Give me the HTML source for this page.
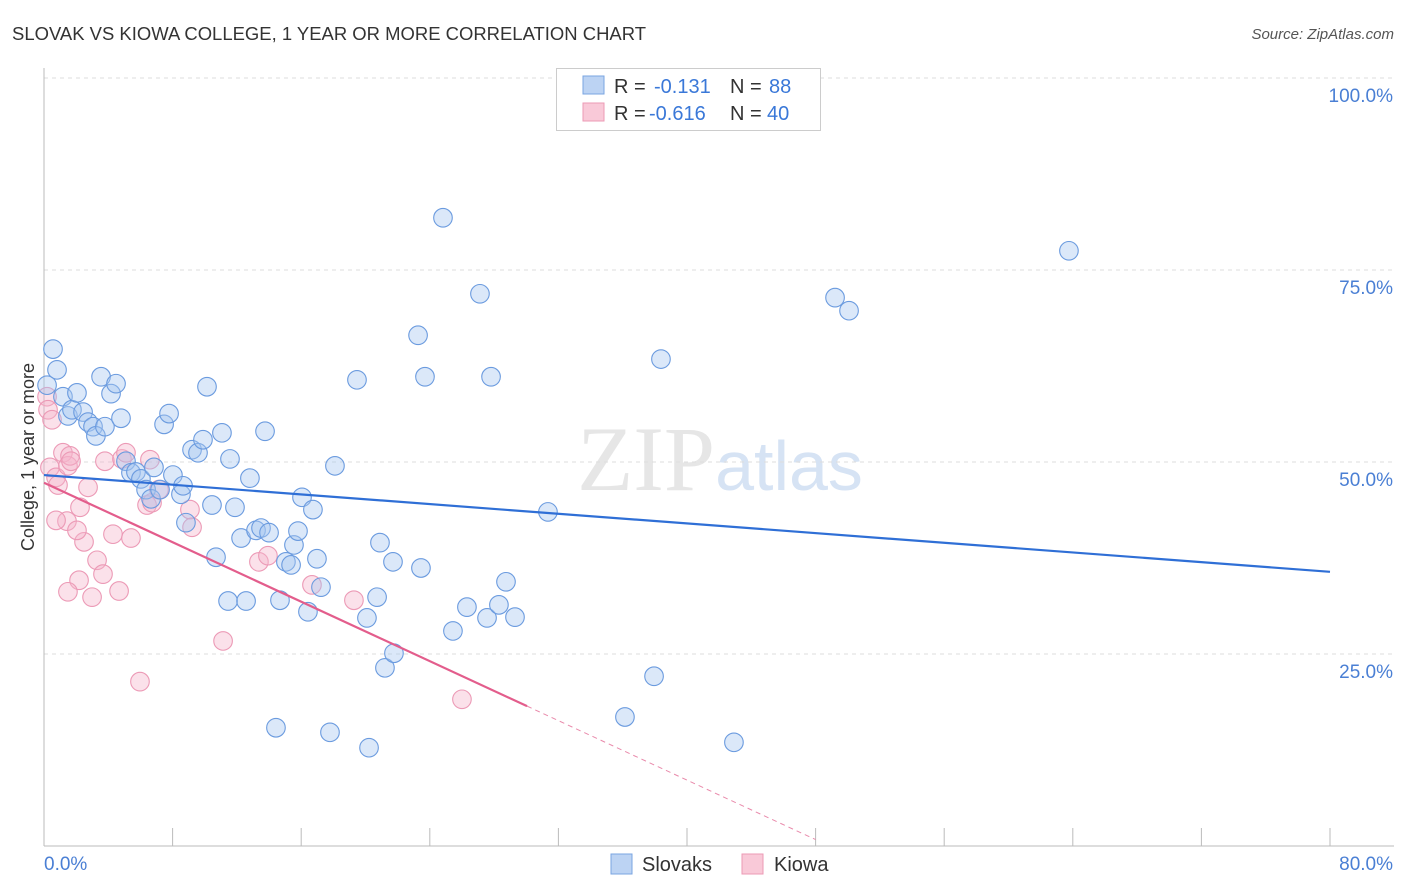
<!DOCTYPE html>
<html><head><meta charset="utf-8"><style>
body{margin:0;background:#fff;font-family:"Liberation Sans",sans-serif}
#c{position:absolute;left:0;top:0}
</style></head><body>
<svg id="c" width="1406" height="892"></svg>
<script>
const blueX=[0.56,0.81,1.18,0.19,1.49,1.74,2.05,2.43,2.74,3.05,3.23,3.55,3.79,4.17,4.48,4.79,5.10,5.41,5.72,6.03,6.35,6.66,6.84,7.22,7.47,7.78,8.02,8.52,8.65,8.83,9.21,9.58,9.89,10.14,10.45,10.70,11.07,11.45,11.57,11.88,12.26,12.57,12.81,13.19,13.50,13.75,14.00,14.68,15.05,15.37,15.55,15.80,16.05,16.42,16.73,16.98,17.23,17.79,18.10,19.47,20.09,20.22,20.72,20.90,21.21,21.71,21.77,23.27,23.45,23.70,24.82,25.44,26.31,27.12,27.56,27.81,28.30,28.74,29.30,31.35,36.14,37.95,38.38,42.92,49.21,50.08,63.76,14.43];
const blueY=[64.7,62.0,58.5,60.0,56.0,56.8,59.0,56.5,55.2,54.6,53.4,61.1,54.6,58.9,60.2,55.7,50.1,48.6,48.7,47.8,46.4,45.2,49.3,46.4,54.9,56.3,48.3,45.8,46.9,42.1,51.6,51.2,52.9,59.8,44.4,37.6,53.8,31.9,50.4,44.1,40.1,31.9,47.9,41.1,41.4,54.0,40.8,32.0,37.0,36.6,39.2,41.0,45.4,30.5,43.8,37.4,33.7,14.8,49.5,60.7,29.7,12.8,32.4,39.5,23.2,37.0,25.1,66.5,36.2,61.1,81.8,28.0,31.1,71.9,29.7,61.1,31.4,34.4,29.8,43.5,16.8,22.1,63.4,13.5,71.4,69.7,77.5,15.4];
const pinkX=[0.19,0.25,0.50,0.37,0.75,0.87,1.18,1.49,1.62,1.68,1.43,0.75,2.24,2.49,2.05,2.74,3.30,3.67,2.18,1.49,2.99,4.29,4.67,3.79,4.85,5.10,5.41,6.41,6.72,7.15,9.08,9.21,11.14,5.97,13.37,13.93,16.67,19.28,26.0,6.59];
const pinkY=[58.5,56.8,55.5,49.3,48.0,47.0,51.2,49.5,50.8,50.1,42.3,42.4,44.1,39.6,41.1,46.7,37.2,35.4,34.6,33.1,32.4,40.6,33.2,50.1,50.4,51.2,40.1,44.4,44.7,46.4,43.8,41.5,26.7,21.4,37.0,37.8,34.0,32.0,19.1,50.3];
const blueTrend=[48.3,35.7]; // y at x=0 and x=80
const pinkTrend=[47.3,-0.968]; // intercept, slope
const pinkSolidEnd=30.05, pinkDashEnd=48;
const yTicks=[25,50,75,100];
const yTickLabels=["25.0%","50.0%","75.0%","100.0%"];

const NS="http://www.w3.org/2000/svg";
const svg=document.getElementById('c');
const X=v=>44+v*16.075, Y=v=>846-v*7.68;
function mk(t,a,p){const e=document.createElementNS(NS,t);for(const k in a)e.setAttribute(k,a[k]);(p||svg).appendChild(e);return e;}

let t=mk('text',{x:12,y:40,'font-size':18,fill:'#333',textLength:634,lengthAdjust:'spacingAndGlyphs'});t.textContent='SLOVAK VS KIOWA COLLEGE, 1 YEAR OR MORE CORRELATION CHART';


t=mk('text',{x:1394,y:39,'font-size':15,fill:'#555','font-style':'italic','text-anchor':'end'});t.textContent='Source: ZipAtlas.com';



t=mk('text',{x:720,y:490,'font-size':92,fill:'#e6e6e6','text-anchor':'middle','font-family':'Liberation Serif'});t.innerHTML='ZIP<tspan fill="#d6e3f4" font-family="Liberation Sans" font-size="70">atlas</tspan>';



yTicks.forEach((v,i)=>{
 const g=mk('line',{x1:44,x2:1394,y1:Y(v),y2:Y(v),stroke:'#ddd','stroke-dasharray':'4,4'});
 
 
 const l=mk('text',{x:1393,y:Y(v)+24,'font-size':19,fill:'#4a7fd4','text-anchor':'end'});l.textContent=yTickLabels[i];
 
 
});
let ax=mk('line',{x1:44,x2:44,y1:68,y2:846,stroke:'#bbb'});


ax=mk('line',{x1:44,x2:1394,y1:846,y2:846,stroke:'#bbb'});


for(let i=0;i<=10;i++){const tk=mk('line',{x1:X(i*8),x2:X(i*8),y1:828,y2:846,stroke:'#bbb'});
 
 }
t=mk('text',{x:44,y:870,'font-size':19,fill:'#4a7fd4'});t.textContent='0.0%';


t=mk('text',{x:1393,y:870,'font-size':19,fill:'#4a7fd4','text-anchor':'end'});t.textContent='80.0%';


t=mk('text',{x:34,y:457,'font-size':18,fill:'#333','text-anchor':'middle',transform:'rotate(-90 34 457)'});t.textContent='College, 1 year or more';



pinkX.forEach((x,i)=>{const c=mk('circle',{cx:X(x),cy:Y(pinkY[i]),r:9.3,fill:'rgba(246,180,202,0.4)',stroke:'#ec9ab6','stroke-width':1.1});
 
 });
blueX.forEach((x,i)=>{const c=mk('circle',{cx:X(x),cy:Y(blueY[i]),r:9.3,fill:'rgba(165,198,240,0.4)',stroke:'#6b9bdf','stroke-width':1.1});
 
 });

let ln=mk('line',{x1:X(0),y1:Y(blueTrend[0]),x2:X(80),y2:Y(blueTrend[1]),stroke:'#2f6fd6','stroke-width':2.2});


const py=x=>pinkTrend[0]+pinkTrend[1]*x;
ln=mk('line',{x1:X(0),y1:Y(py(0)),x2:X(pinkSolidEnd),y2:Y(py(pinkSolidEnd)),stroke:'#e35d8c','stroke-width':2.2});


ln=mk('line',{x1:X(pinkSolidEnd),y1:Y(py(pinkSolidEnd)),x2:X(pinkDashEnd),y2:Y(py(pinkDashEnd)),stroke:'#e98aab','stroke-width':1,'stroke-dasharray':'5,4'});



let r=mk('rect',{x:556.5,y:68.5,width:264,height:62,fill:'#fff',stroke:'#ccc'});


r=mk('rect',{x:583,y:76,width:21,height:18,fill:'#bcd3f3',stroke:'#7aa5e2'});


r=mk('rect',{x:583,y:103,width:21,height:18,fill:'#f9c9d8',stroke:'#ec9ab5'});


t=mk('text',{x:614,y:93,'font-size':20,fill:'#333'});t.innerHTML='R = <tspan fill="#3a78d8" x="654">-0.131</tspan><tspan x="730">N = </tspan><tspan fill="#3a78d8" x="769">88</tspan>';


t=mk('text',{x:614,y:120,'font-size':20,fill:'#333'});t.innerHTML='R = <tspan fill="#3a78d8" x="649">-0.616</tspan><tspan x="730">N = </tspan><tspan fill="#3a78d8" x="767">40</tspan>';



r=mk('rect',{x:611,y:854,width:21,height:20,fill:'#bcd3f3',stroke:'#7aa5e2'});


t=mk('text',{x:642,y:871,'font-size':20,fill:'#333'});t.textContent='Slovaks';


r=mk('rect',{x:742,y:854,width:21,height:20,fill:'#f9c9d8',stroke:'#ec9ab5'});


t=mk('text',{x:774,y:871,'font-size':20,fill:'#333'});t.textContent='Kiowa';


</script>
</body></html>
